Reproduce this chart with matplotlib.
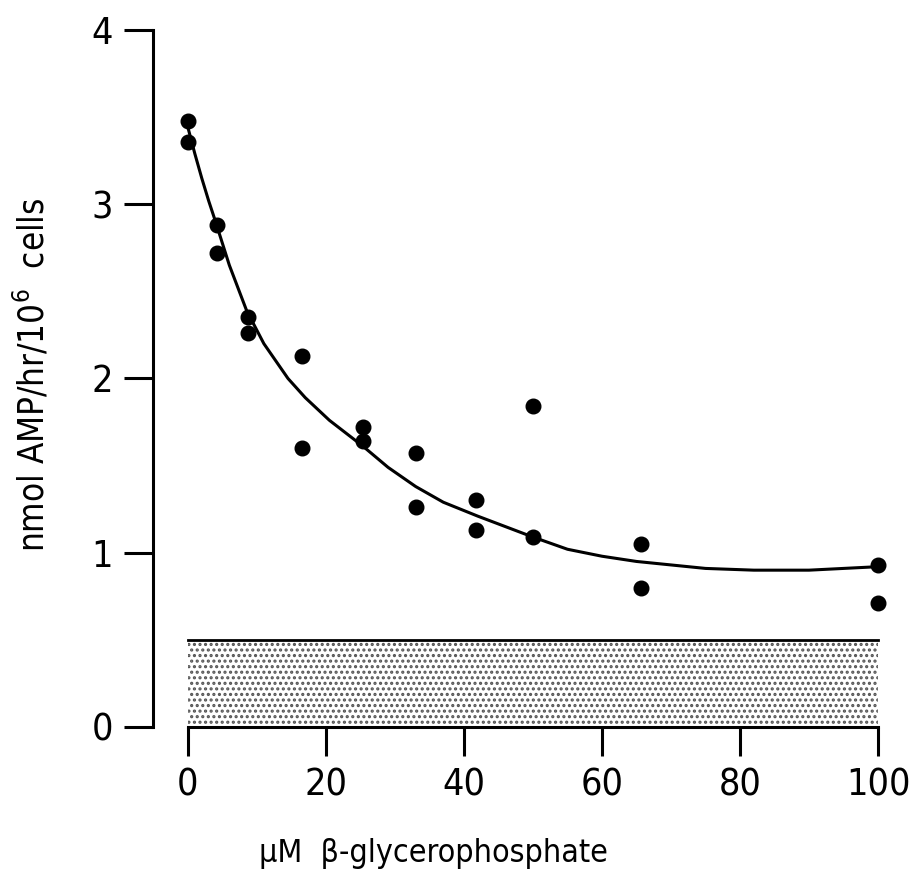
import matplotlib
matplotlib.use('Agg')
import matplotlib.pyplot as plt

plt.rcParams['font.family'] = ['DejaVu Sans']
plt.rcParams['font.stretch'] = 'condensed'
plt.rcParams['hatch.color'] = '#555555'
plt.rcParams['hatch.linewidth'] = 1.5

# measured points (uM beta-glycerophosphate, nmol AMP/hr/10^6 cells)
conc = [0, 0, 4.2, 4.2, 8.7, 8.7, 16.5, 16.5, 25.3, 25.3,
        33.0, 33.0, 41.8, 41.8, 50, 50, 65.7, 65.7, 100, 100]
activity = [3.48, 3.36, 2.88, 2.72, 2.35, 2.26, 2.13, 1.60, 1.72, 1.64,
            1.57, 1.26, 1.30, 1.13, 1.84, 1.09, 1.05, 0.80, 0.93, 0.71]

# hand drawn fitted curve
curve_x = [0, 1, 2, 3, 4, 6, 8.5, 11, 14.5, 17, 20.5, 25.4, 29, 33, 37, 42,
           46, 50, 55, 60, 65, 70, 75, 82, 90, 95, 100]
curve_y = [3.44, 3.29, 3.15, 3.02, 2.90, 2.65, 2.39, 2.20, 2.00, 1.89, 1.76,
           1.61, 1.49, 1.38, 1.29, 1.21, 1.15, 1.09, 1.02, 0.98, 0.95, 0.93,
           0.91, 0.90, 0.90, 0.91, 0.92]

# background band
band_x = [0, 100]
band_top = 0.5

xticks = [0, 20, 40, 60, 80, 100]
yticks = [0, 1, 2, 3, 4]

fig = plt.figure(figsize=(9.09, 8.72), dpi=100)
ax = fig.add_axes([0.165, 0.1563, 0.8237, 0.8293])

ax.fill_between(band_x, 0, band_top, facecolor='white', hatch='...', linewidth=0)
ax.plot(band_x, [band_top, band_top], color='black', lw=2)

ax.plot(curve_x, curve_y, color='black', lw=2.2, solid_capstyle='round',
        solid_joinstyle='round')
ax.plot(conc, activity, 'o', color='black', markersize=10.5, zorder=5)

ax.set_xlim(-5.5, 103)
ax.set_ylim(-0.05, 4.1)

for s in ['top', 'right']:
    ax.spines[s].set_visible(False)
ax.spines['left'].set_position(('data', -5))
ax.spines['left'].set_bounds(0, 4)
ax.spines['bottom'].set_position(('data', 0))
ax.spines['bottom'].set_bounds(0, 100)
ax.spines['left'].set_linewidth(2.2)
ax.spines['bottom'].set_linewidth(2.2)

ax.set_xticks(xticks)
ax.set_yticks(yticks)
ax.tick_params(direction='out', length=21, width=2.2, labelsize=27, pad=8)

ax.set_xlabel('\u03bcM  \u03b2-glycerophosphate', fontsize=23)
ax.xaxis.set_label_coords(0.379, -0.142)
ax.set_ylabel('nmol AMP/hr/10$^6$  cells', fontsize=25)
ax.yaxis.set_label_coords(-0.132, 0.499)

fig.savefig('out.png', dpi=100)
